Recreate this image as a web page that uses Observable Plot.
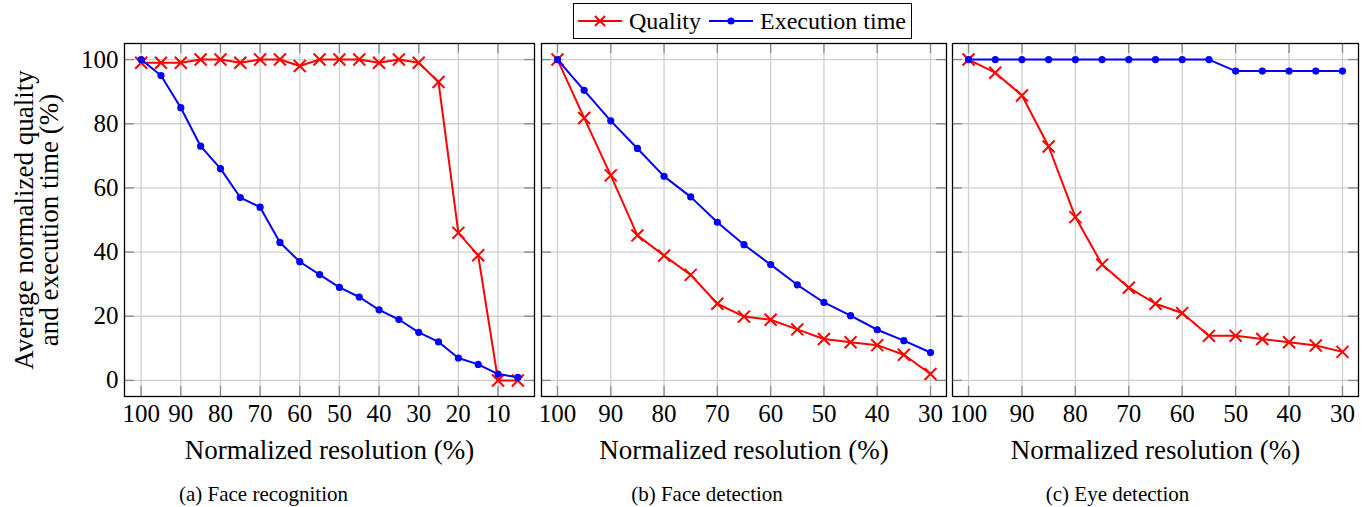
<!DOCTYPE html>
<html>
<head>
<meta charset="utf-8">
<script src="https://cdn.jsdelivr.net/npm/d3@7"></script>
<script src="https://cdn.jsdelivr.net/npm/@observablehq/plot@0.6"></script>
<style>
  html, body { margin: 0; padding: 0; background: #fff; }
  #wrap { position: relative; width: 1372px; height: 507px; font-family: 'Liberation Serif', 'Times New Roman', serif; }
  #wrap svg text { font-family: 'Liberation Serif', 'Times New Roman', serif; }
  .panel { position: absolute; top: 0; }
  #legend { position: absolute; left: 573px; top: 3px; width: 337px; height: 34px; border: 1.3px solid #000;
    display: flex; align-items: center; font-size: 24px; color: #000; box-sizing: content-box; }
  #legend .item { display: flex; align-items: center; }
  #legend svg { display: block; }
</style>
</head>
<body>
<div id="wrap">
  <div id="legend"></div>
</div>
<script>
// ---- data ----
const seriesNames = ["Quality", "Execution time"];
const seriesColors = ["#ff0000", "#0000ff"];

const resA = [100, 95, 90, 85, 80, 75, 70, 65, 60, 55, 50, 45, 40, 35, 30, 25, 20, 15, 10, 5];
const qualityA = [99, 99, 99, 100, 100, 99, 100, 100, 98, 100, 100, 100, 99, 100, 99, 93, 46, 39, 0, 0];
const timeA = [100, 95, 85, 73, 66, 57, 54, 43, 37, 33, 29, 26, 22, 19, 15, 12, 7, 5, 2, 1];

const resB = [100, 95, 90, 85, 80, 75, 70, 65, 60, 55, 50, 45, 40, 35, 30];
const qualityB = [100, 81.8, 63.9, 45.2, 38.9, 32.9, 23.9, 19.9, 18.9, 15.9, 12.9, 11.9, 11.0, 8.0, 2.0];
const timeB = [100, 90.4, 80.9, 72.3, 63.6, 57.2, 49.3, 42.3, 36.1, 29.8, 24.3, 20.2, 15.8, 12.4, 8.7];

const resC = [100, 95, 90, 85, 80, 75, 70, 65, 60, 55, 50, 45, 40, 35, 30];
const qualityC = [100, 95.9, 88.8, 72.9, 50.9, 36.1, 28.9, 23.9, 21.0, 13.9, 13.9, 12.9, 11.9, 10.9, 8.9];
const timeC = [100, 100, 100, 100, 100, 100, 100, 100, 100, 100, 96.4, 96.4, 96.4, 96.4, 96.4];

const yTicks = [0, 20, 40, 60, 80, 100];
const xTicksA = [100, 90, 80, 70, 60, 50, 40, 30, 20, 10];
const xTicksBC = [100, 90, 80, 70, 60, 50, 40, 30];

const yLabel = "Average normalized quality\nand execution time (%)";
const xLabel = "Normalized resolution (%)";
const captions = ["(a) Face recognition", "(b) Face detection", "(c) Eye detection"];

// ---- layout ----
const H = 507, mTop = 43, mBottom = 111;
const frameH = H - mTop - mBottom;

function panel({left, width, mLeft, mRight, xDomain, xTicks, res, q, t, caption, captionDx, showY}) {
  const frameW = width - mLeft - mRight;
  const rowsQ = res.map((r, i) => ({r, v: q[i]}));
  const rowsT = res.map((r, i) => ({r, v: t[i]}));
  const gridC = "#cfcfcf", tickC = "#8a8a8a";
  const marks = [
    Plot.gridX(xTicks, {stroke: gridC, strokeOpacity: 1, strokeWidth: 1.3}),
    Plot.gridY(yTicks, {stroke: gridC, strokeOpacity: 1, strokeWidth: 1.3}),
    // inward ticks (top, bottom, left, right)
    Plot.ruleX(xTicks, {x: d => d, insetBottom: frameH - 10, stroke: tickC, strokeWidth: 1.3}),
    Plot.ruleX(xTicks, {x: d => d, insetTop: frameH - 10, stroke: tickC, strokeWidth: 1.3}),
    Plot.ruleY(yTicks, {y: d => d, insetRight: frameW - 10, stroke: tickC, strokeWidth: 1.3}),
    Plot.ruleY(yTicks, {y: d => d, insetLeft: frameW - 10, stroke: tickC, strokeWidth: 1.3}),
    Plot.frame({stroke: "#000", strokeWidth: 1.3}),
    Plot.line(rowsQ, {x: "r", y: "v", stroke: seriesColors[0], strokeWidth: 2}),
    Plot.dot(rowsQ, {x: "r", y: "v", symbol: "times", r: 5.5, stroke: seriesColors[0], strokeWidth: 2, fill: "none"}),
    Plot.line(rowsT, {x: "r", y: "v", stroke: seriesColors[1], strokeWidth: 2}),
    Plot.dot(rowsT, {x: "r", y: "v", r: 3.6, fill: seriesColors[1], stroke: "none"}),
    Plot.axisX(xTicks, {tickSize: 0, tickPadding: 8, label: null, tickFormat: d => String(d), fontSize: 25}),
    Plot.text([xLabel], {frameAnchor: "bottom", dy: 54, lineAnchor: "middle", fontSize: 27}),
    Plot.text([caption], {frameAnchor: "bottom", dy: 98, dx: captionDx, lineAnchor: "middle", fontSize: 21})
  ];
  if (showY) {
    marks.push(Plot.axisY(yTicks, {tickSize: 0, tickPadding: 6, label: null, tickFormat: d => String(d), fontSize: 25}));
    marks.push(Plot.text([yLabel], {frameAnchor: "left", rotate: -90, dx: -(mLeft - 37), textAnchor: "middle",
      lineAnchor: "middle", lineHeight: 0.92, fontSize: 27}));
  } else {
    marks.push(Plot.axisY(yTicks, {tickSize: 0, tickFormat: () => "", label: null}));
  }
  const svg = Plot.plot({
    width, height: H,
    marginLeft: mLeft, marginRight: mRight, marginTop: mTop, marginBottom: mBottom,
    x: {domain: xDomain, axis: null},
    y: {domain: [-5, 105], axis: null},
    style: {fontFamily: "'Liberation Serif', 'Times New Roman', serif", color: "#000", background: "transparent", overflow: "visible"},
    marks
  });
  svg.classList.add("panel");
  svg.style.left = left + "px";
  document.getElementById("wrap").appendChild(svg);
}

panel({left: 0, width: 537, mLeft: 124, mRight: 3, xDomain: [104.2, 0.8], xTicks: xTicksA,
  res: resA, q: qualityA, t: timeA, caption: captions[0], captionDx: -66, showY: true});
panel({left: 537, width: 412, mLeft: 4, mRight: 3, xDomain: [103, 27], xTicks: xTicksBC,
  res: resB, q: qualityB, t: timeB, caption: captions[1], captionDx: -37, showY: false});
panel({left: 949, width: 413, mLeft: 3, mRight: 4, xDomain: [103, 27], xTicks: xTicksBC,
  res: resC, q: qualityC, t: timeC, caption: captions[2], captionDx: -38, showY: false});

// ---- legend ----
const legend = document.getElementById("legend");
seriesNames.forEach((name, i) => {
  const item = document.createElement("div");
  item.className = "item";
  item.style.marginLeft = i === 0 ? "3px" : "7px";
  const ns = "http://www.w3.org/2000/svg";
  const sw = document.createElementNS(ns, "svg");
  sw.setAttribute("width", "46"); sw.setAttribute("height", "20");
  const ln = document.createElementNS(ns, "line");
  ln.setAttribute("x1", "1"); ln.setAttribute("x2", "45"); ln.setAttribute("y1", "10"); ln.setAttribute("y2", "10");
  ln.setAttribute("stroke", seriesColors[i]); ln.setAttribute("stroke-width", "2");
  sw.appendChild(ln);
  if (i === 0) {
    const p = document.createElementNS(ns, "path");
    p.setAttribute("d", "M18,5L28,15M18,15L28,5");
    p.setAttribute("stroke", seriesColors[i]); p.setAttribute("stroke-width", "2"); p.setAttribute("fill", "none");
    sw.appendChild(p);
  } else {
    const c = document.createElementNS(ns, "circle");
    c.setAttribute("cx", "23"); c.setAttribute("cy", "10"); c.setAttribute("r", "3.6");
    c.setAttribute("fill", seriesColors[i]);
    sw.appendChild(c);
  }
  item.appendChild(sw);
  const tx = document.createElement("span");
  tx.textContent = name;
  tx.style.marginLeft = "6px";
  item.appendChild(tx);
  legend.appendChild(item);
});
</script>
</body>
</html>
